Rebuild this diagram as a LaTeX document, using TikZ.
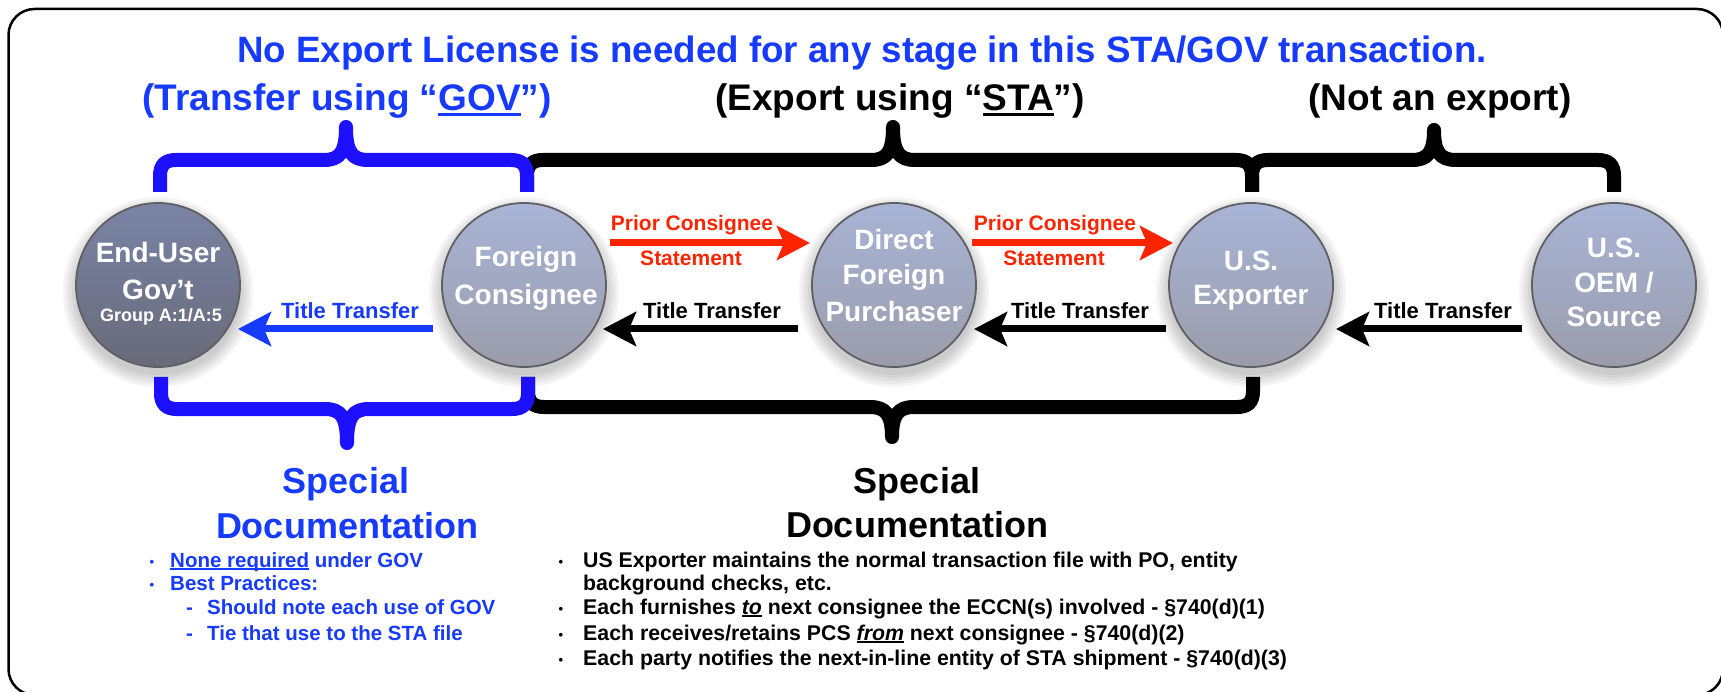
\documentclass[tikz,border=0pt]{standalone}
\usepackage{fontspec}
\setmainfont{Liberation Sans}
\usetikzlibrary{arrows.meta,calc,backgrounds}

\definecolor{txtblue}{RGB}{22,58,255}
\definecolor{braceblue}{RGB}{28,16,255}
\definecolor{redarrow}{RGB}{255,36,0}
\definecolor{circtop}{RGB}{168,180,214}
\definecolor{circbot}{RGB}{154,156,170}
\definecolor{eutop}{RGB}{122,132,166}
\definecolor{eubot}{RGB}{104,106,120}
\definecolor{circedge}{RGB}{95,95,100}

% underline set just below the baseline
\newcommand\undl[1]{\leavevmode\setbox0\hbox{#1}\rlap{\rule[-0.13em]{\wd0}{0.07em}}\box0\relax}
\newcommand\fsz[1]{\fontsize{#1}{#1}\selectfont}

\tikzset{
  party/.style={circle, draw=circedge, line width=1.8pt, minimum size=164pt, inner sep=0pt,
                top color=circtop, bottom color=circbot},
  ctext/.style={text=white, font=\bfseries\fsz{28}, anchor=base, inner sep=0pt},
  ttarrow/.style={line width=7pt, -{Stealth[length=33pt,width=34pt,inset=7pt]}},
  ttlabel/.style={font=\bfseries\fsz{22}, anchor=base, inner sep=0pt},
  pcslabel/.style={font=\bfseries\fsz{21}, anchor=base, inner sep=0pt, text=redarrow},
  bracestroke/.style={line width=14pt, line join=round},
  head/.style={font=\bfseries\fsz{37}, anchor=base, inner sep=0pt},
  doctitle/.style={font=\bfseries\fsz{36}, anchor=base, inner sep=0pt},
  item/.style={font=\bfseries\fsz{20.5}, anchor=base west, inner sep=0pt},
  blackitem/.style={font=\bfseries\fsz{21.3}, anchor=base west, inner sep=0pt},
  dot/.style={font=\bfseries\fsz{13}, anchor=base, inner sep=0pt},
}

\begin{document}
\begin{tikzpicture}[x=1pt, y=-1pt]
\useasboundingbox (0,0) rectangle (1721,692);

% outer frame
\draw[line width=2.5pt, rounded corners=26pt] (8.5,9) rectangle (1723,695);

% headings
\node[head, text=txtblue, font=\bfseries\fsz{36.7}] at (862,63) {No Export License is needed for any stage in this STA/GOV transaction.};
\node[head, text=txtblue] at (347,111) {(Transfer using “\undl{GOV}”)};
\node[head] at (900,111) {(Export using “\undl{STA}”)};
\node[head] at (1440,111) {(Not an export)};

% upper braces
\draw[bracestroke] (527,192) -- (527,176) .. controls (527,165) and (532,160) .. (543,160) -- (871,160) .. controls (887,160) and (893,152) .. (893,127) .. controls (893,152) and (899,160) .. (915,160) -- (1236,160) .. controls (1247,160) and (1252,165) .. (1252,176) -- (1252,192);
\draw[bracestroke] (1252,192) -- (1252,176) .. controls (1252,165) and (1257,160) .. (1268,160) -- (1412,160) .. controls (1428,160) and (1434,152) .. (1434,130) .. controls (1434,152) and (1440,160) .. (1456,160) -- (1598,160) .. controls (1609,160) and (1614,165) .. (1614,176) -- (1614,192);
\draw[bracestroke, braceblue] (160,192) -- (160,176) .. controls (160,165) and (165,160) .. (176,160) -- (324,160) .. controls (340,160) and (346,152) .. (346,127) .. controls (346,152) and (352,160) .. (368,160) -- (511,160) .. controls (522,160) and (527,165) .. (527,176) -- (527,192);

% lower braces
\draw[bracestroke] (528,377) -- (528,391) .. controls (528,402) and (533,407) .. (544,407) -- (870,407) .. controls (886,407) and (892,415) .. (892,437) .. controls (892,415) and (898,407) .. (914,407) -- (1237,407) .. controls (1248,407) and (1253,402) .. (1253,391) -- (1253,377);
\draw[bracestroke, braceblue] (161,377) -- (161,393) .. controls (161,404) and (166,409) .. (177,409) -- (325,409) .. controls (341,409) and (347,417) .. (347,443) .. controls (347,417) and (353,409) .. (369,409) -- (512,409) .. controls (523,409) and (528,404) .. (528,393) -- (528,377);

% parties
\node[party, top color=eutop, bottom color=eubot] (eu) at (158,285) {};
\node[party] (fc) at (524,285) {};
\node[party] (dfp) at (894,285) {};
\node[party] (uexp) at (1251,285) {};
\node[party] (oem) at (1614,285) {};

% soft shadow under each disc
\begin{pgfonlayer}{background}
  \foreach \p in {eu,fc,dfp,uexp,oem}
    \foreach \r in {83,86,89,92,95}
      \fill[black, opacity=0.045] ($(\p)+(0,7)$) circle (\r pt);
\end{pgfonlayer}

\node[ctext] at (158,263) {End-User};
\node[ctext] at (158,300) {Gov’t};
\node[ctext, font=\bfseries\fsz{18}] at (161,322) {Group A:1/A:5};
\node[ctext] at (526,267) {Foreign};
\node[ctext] at (526,305) {Consignee};
\node[ctext] at (894,250) {Direct};
\node[ctext] at (894,285) {Foreign};
\node[ctext] at (894,322) {Purchaser};
\node[ctext] at (1251,271) {U.S.};
\node[ctext] at (1251,305) {Exporter};
\node[ctext] at (1614,258) {U.S.};
\node[ctext] at (1614,293) {OEM /};
\node[ctext] at (1614,327) {Source};

% title transfers (right to left)
\draw[ttarrow, txtblue] ($(fc)+(-91,44)$) -- ($(eu)+(80,44)$);
\draw[ttarrow] ($(dfp)+(-96,44)$) -- ($(fc)+(79,44)$);
\draw[ttarrow] ($(uexp)+(-85,44)$) -- ($(dfp)+(80,44)$);
\draw[ttarrow] ($(oem)+(-92,44)$) -- ($(uexp)+(85,44)$);
\node[ttlabel, text=txtblue] at (350,319) {Title Transfer};
\node[ttlabel] at (712,319) {Title Transfer};
\node[ttlabel] at (1080,319) {Title Transfer};
\node[ttlabel] at (1443,319) {Title Transfer};

% prior consignee statements (left to right)
\draw[ttarrow, redarrow] ($(fc)+(86,-42)$) -- ($(dfp)+(-84,-42)$);
\draw[ttarrow, redarrow] ($(dfp)+(78,-42)$) -- ($(uexp)+(-78,-42)$);
\node[pcslabel] at (692,231) {Prior Consignee};
\node[pcslabel] at (691,266) {Statement};
\node[pcslabel] at (1055,231) {Prior Consignee};
\node[pcslabel] at (1054,266) {Statement};

% documentation under GOV
\node[doctitle, text=txtblue] at (346,493) {Special};
\node[doctitle, text=txtblue] at (347,538) {Documentation};
\begin{scope}[every node/.append style={text=txtblue}]
  \node[dot] at (152,566) {•};
  \node[item] at (170,567) {\undl{None required} under GOV};
  \node[dot] at (152,589) {•};
  \node[item] at (170,590) {Best Practices:};
  \node[item] at (186,614) {-};
  \node[item] at (207,614) {Should note each use of GOV};
  \node[item] at (186,640) {-};
  \node[item] at (207,640) {Tie that use to the STA file};
\end{scope}

% documentation under STA
\node[doctitle] at (917,493) {Special};
\node[doctitle] at (917,537) {Documentation};
\node[dot] at (561,566) {•};
\node[blackitem] at (583,567) {US Exporter maintains the normal transaction file with PO, entity};
\node[blackitem] at (583,590) {background checks, etc.};
\node[dot] at (561,613) {•};
\node[blackitem] at (583,614) {Each furnishes \undl{\textit{to}} next consignee the ECCN(s) involved - §740(d)(1)};
\node[dot] at (561,639) {•};
\node[blackitem] at (583,640) {Each receives/retains PCS \undl{\textit{from}} next consignee - §740(d)(2)};
\node[dot] at (561,664) {•};
\node[blackitem] at (583,665) {Each party notifies the next-in-line entity of STA shipment - §740(d)(3)};
\end{tikzpicture}
\end{document}
